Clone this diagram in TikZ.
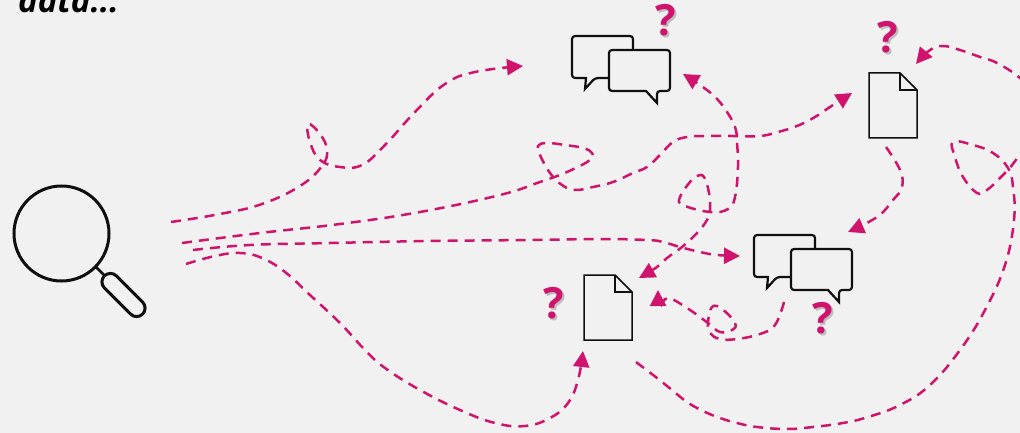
\documentclass[tikz,border=0pt]{standalone}
\usepackage{fontspec}
\setmainfont{Open Sans}
\usepackage{tikz}
\usetikzlibrary{arrows.meta}
\definecolor{pagebg}{RGB}{241,241,241}
\definecolor{trail}{RGB}{208,20,110}
\definecolor{iconline}{RGB}{15,15,15}
\tikzset{
  routetip/.tip={Triangle[length=16pt,width=16pt]},
  route/.style={draw=trail,line width=2.5pt,dash pattern=on 10pt off 7pt,smooth,tension=0.7},
  qmark/.style={font=\fontsize{43}{43}\selectfont\bfseries,text=trail,inner sep=0pt},
  qshadow/.style={font=\fontsize{43}{43}\selectfont\bfseries,text=black!55,opacity=0.4,inner sep=0pt},
  pics/chatpair/.style={code={
    \draw[iconline,line width=2.2pt,rounded corners=3pt] (0,0) -- (61,0) -- (61,42) -- (23,42) [sharp corners] -- (13,53) -- (14,42) [rounded corners=3pt] -- (0,42) -- cycle;
    \draw[iconline,fill=pagebg,line width=2.2pt,rounded corners=3pt] (37,14) -- (98,14) -- (98,55) -- (85,55) [sharp corners] -- (85,67) -- (74,55) [rounded corners=3pt] -- (37,55) -- cycle;
  }},
  pics/docpage/.style={code={
    \draw[iconline,line width=1.5pt,line join=miter] (0,0) -- (31,0) -- (48,17) -- (48,65) -- (0,65) -- cycle;
    \draw[iconline,line width=1.5pt] (31,0) -- (31,17) -- (48,17);
  }}
}
\begin{document}
\begin{tikzpicture}[x=1pt,y=-1pt]
\fill[pagebg] (0,0) rectangle (1020,433);
\useasboundingbox (0,0) rectangle (1020,433);
\node[anchor=base west,inner sep=0pt,font=\fontsize{33}{33}\selectfont\bfseries\itshape] (title) at (18,12.5) {data...};
% Magnifier
\draw[iconline,line width=3pt] (61.5,233.5) circle (47.5);
\draw[iconline,line width=2.6pt] (96,267) -- (105,276);
\draw[iconline,line width=3pt,rounded corners=8.5pt,rotate around={-45:(123.5,295)}] (96.5,286.5) rectangle (150.5,303.5);
% Icons
\pic at (572,36) {chatpair};
\pic at (754,235) {chatpair};
\pic at (869,73) {docpage};
\pic at (584,275) {docpage};
\foreach \n/\x/\y in {qa/666/20,qb/888/37,qc/554/303,qd/823/318}{
\node[qshadow] (\n s) at (\x+2,\y+2) {?};
\node[qmark] (\n) at (\x,\y) {?};
}
% Routes from the magnifier
\draw[route,-{routetip}] plot coordinates {(171,222) (220,214) (262,204) (300,186) (322,166) (327,150) (320,134) (308,124) (310,142) (320,160) (340,167) (362,165) (385,145) (415,112) (445,84) (475,72) (523,66)};
\draw[route,-{routetip}] plot coordinates {(182,243) (260,233) (340,224) (420,212) (500,195) (540,182) (567,172) (590,160) (592,153) (583,148) (565,145) (547,143) (538,146) (540,155) (550,173) (562,185) (575,190) (593,187) (613,182) (633,173) (647,167) (660,155) (673,142) (687,137) (707,136) (733,136) (760,136) (778,132) (797,126) (815,117) (830,107) (852,93)};
\draw[route,-{routetip}] plot coordinates {(193,250) (250,245) (330,243) (430,241) (530,240) (600,239) (647,240) (663,242) (680,247) (700,252) (717,255) (740,256)};
\draw[route,-{routetip}] plot coordinates {(186,264) (215,256) (240,253) (262,258) (285,272) (310,295) (340,323) (365,350) (385,368) (420,390) (460,410) (495,423) (525,426) (550,418) (568,403) (578,380) (583,351)};
% Routes between the icons
\draw[route,-{routetip}] plot coordinates {(886,147) (900,170) (902,187) (893,200) (877,217) (848,232)};
\draw[route,-{routetip}] plot coordinates {(784,302) (775,325) (760,334) (737,339) (720,339) (710,333) (708,323) (712,307) (722,309) (735,323) (732,330) (720,332) (708,323) (687,308) (668,298) (660,306) (658,290)};
\draw[route,{routetip}-{routetip}] plot coordinates {(683,74) (697,83) (713,95) (725,109) (735,127) (737,143) (738,167) (735,197) (728,209) (710,212) (683,205) (680,197) (690,182) (697,176) (704,177) (709,193) (710,210) (707,220) (697,233) (682,247) (667,258) (657,267) (639,278)};
\draw[route,-{routetip}] plot coordinates {(636,362) (657,378) (672,390) (687,402) (703,411) (720,418) (737,423) (757,427) (787,429) (813,427) (843,423) (868,417) (900,405) (930,385) (960,350) (985,310) (1005,265) (1014,220) (1013,187) (1008,168) (993,153) (973,145) (953,142) (955,157) (963,177) (977,193) (987,190) (1000,178) (1008,170) (1018,157) (1040,125) (1042,100) (1020,78) (997,63) (980,57) (960,50) (943,46) (930,50) (916,64)};
\end{tikzpicture}
\end{document}
